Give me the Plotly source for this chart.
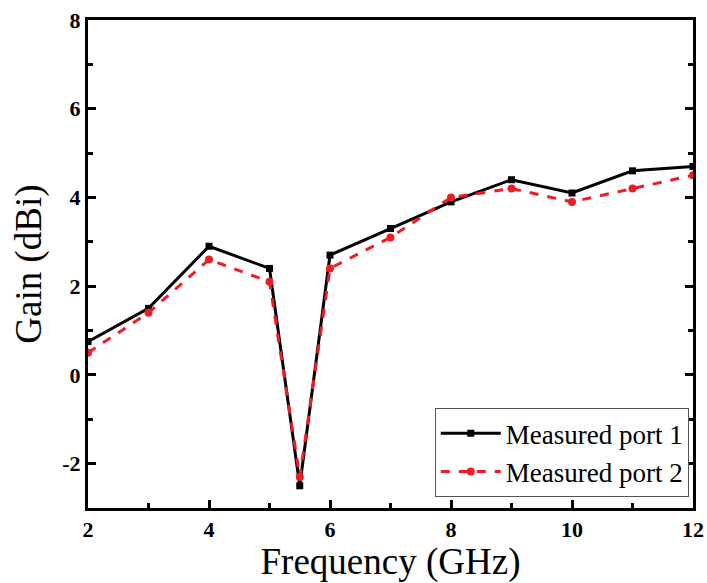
import plotly.graph_objects as go

freq = [2, 3, 4, 5, 5.5, 6, 7, 8, 9, 10, 11, 12]
port1 = [0.75, 1.5, 2.9, 2.4, -2.5, 2.7, 3.3, 3.9, 4.4, 4.1, 4.6, 4.7]
port2 = [0.5, 1.4, 2.6, 2.1, -2.3, 2.4, 3.1, 4.0, 4.2, 3.9, 4.2, 4.5]
x_ticks = [2, 4, 6, 8, 10, 12]
y_ticks = [-2, 0, 2, 4, 6, 8]
y_tick_text = ["-2", "0", "2", "4", "6", "8"]

font = "Liberation Serif"

fig = go.Figure()
fig.add_trace(go.Scatter(x=freq, y=port1, mode="lines+markers", name="Measured port 1",
                         line=dict(color="black", width=3),
                         marker=dict(symbol="square", size=7, color="black")))
fig.add_trace(go.Scatter(x=freq, y=port2, mode="lines+markers", name="Measured port 2",
                         line=dict(color="#ee1c25", width=3, dash="dash"),
                         marker=dict(symbol="circle", size=8, color="#ee1c25")))

axis_common = dict(showgrid=False, zeroline=False, showline=True, linecolor="black", linewidth=3,
                   ticks="inside", ticklen=8, tickwidth=3, tickcolor="black", automargin=False,
                   tickfont=dict(family=font, size=22, color="black", weight="bold"))

fig.update_xaxes(range=[2, 12], tickvals=x_ticks, mirror=True,
                 minor=dict(ticks="inside", dtick=1, ticklen=5, tickwidth=3, tickcolor="black"),
                 title=dict(text="Frequency (GHz)", font=dict(family=font, size=37, color="black"), standoff=0),
                 **axis_common)
fig.update_yaxes(range=[-3, 8], tickvals=y_ticks, ticktext=y_tick_text, mirror="ticks",
                 minor=dict(ticks="inside", dtick=1, ticklen=5, tickwidth=3, tickcolor="black"),
                 title=dict(text="Gain (dBi)", font=dict(family=font, size=37, color="black"), standoff=10),
                 **axis_common)

fig.update_layout(
    width=707, height=583,
    margin=dict(l=88, r=14, t=20, b=75),
    plot_bgcolor="white", paper_bgcolor="white",
    legend=dict(x=0.993, y=0.022, xanchor="right", yanchor="bottom",
                bordercolor="#555", borderwidth=1, bgcolor="white",
                font=dict(family=font, size=27, color="black"),
                tracegroupgap=0, itemwidth=60),
)

fig.write_html("out.html", config={"displayModeBar": False},
               post_script="document.body.style.margin='0';document.body.style.overflow='hidden';")
